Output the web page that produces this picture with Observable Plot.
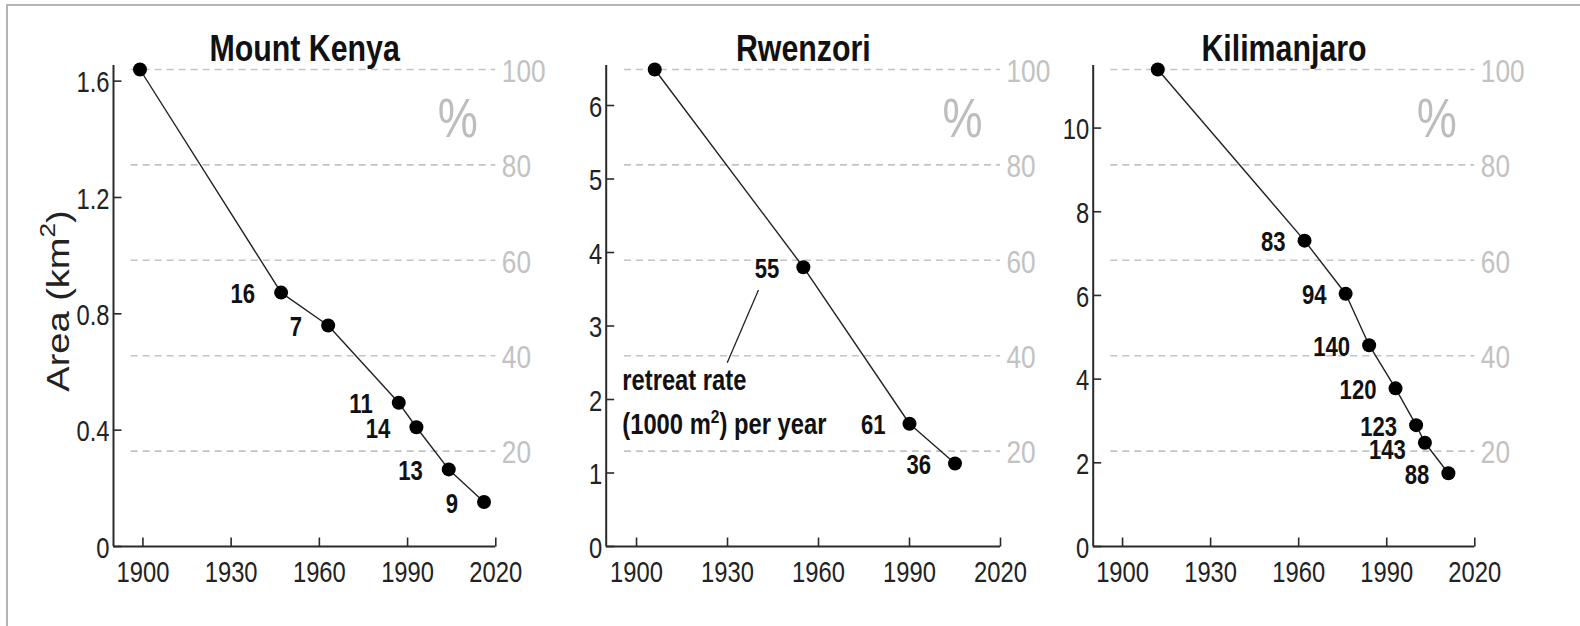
<!DOCTYPE html>
<html>
<head>
<meta charset="utf-8">
<script src="https://cdn.jsdelivr.net/npm/d3@7"></script>
<script src="https://cdn.jsdelivr.net/npm/@observablehq/plot@0.6"></script>
<style>
  html, body { margin: 0; padding: 0; background: #fff; }
  #wrap { position: relative; width: 1580px; height: 626px; overflow: hidden; background: #fff; }
  #frame { position: absolute; left: 6px; top: 4px; width: 1600px; height: 700px;
           border-top: 2px solid #b4b4b4; border-left: 2px solid #b4b4b4; }
  .panel { position: absolute; top: 0; }
  #ylab { position: absolute; left: 58px; top: 301px; transform: translate(-50%, -50%) rotate(-90deg) scale(1, 0.82);
          white-space: nowrap; font-family: 'Liberation Sans', Arial, sans-serif; font-size: 38px; color: #222; line-height: 1; }
  #ylab sup { font-size: 26px; line-height: 0; position: relative; top: -3px; vertical-align: super; }
</style>
</head>
<body>
<div id="wrap"><div id="frame"></div><div id="ylab">Area (km<sup>2</sup>)</div></div>
<script>
// ---- data ----
const titles = ["Mount Kenya", "Rwenzori", "Kilimanjaro"];
const xTicks = [1900, 1930, 1960, 1990, 2020];
const xDomain = [1890, 2020];
const pctTicks = [20, 40, 60, 80, 100];

const mkYears = [1899, 1947, 1963, 1987, 1993, 2004, 2016];
const mkArea  = [1.64, 0.873, 0.76, 0.494, 0.41, 0.265, 0.153];
const mkRate  = [null, 16, 7, 11, 14, 13, 9];
const mkYTicks = [0, 0.4, 0.8, 1.2, 1.6];

const rwYears = [1906, 1955, 1990, 2005];
const rwArea  = [6.49, 3.80, 1.67, 1.13];
const rwRate  = [null, 55, 61, 36];
const rwYTicks = [0, 1, 2, 3, 4, 5, 6];

const kiYears = [1912, 1962, 1976, 1984, 1993, 2000, 2003, 2011];
const kiArea  = [11.40, 7.31, 6.04, 4.81, 3.78, 2.90, 2.48, 1.75];
const kiRate  = [null, 83, 94, 140, 120, 123, 143, 88];
const kiYTicks = [0, 2, 4, 6, 8, 10];

const annoLines = ["retreat rate", "(1000 m²) per year"];
const annoYear = 1895.3;
const annoValues = [2.25, 1.66];
const leader = {x1: 1940.2, y1: 3.49, x2: 1929.9, y2: 2.50};

// ---- layout / style ----
const FONT = "'Liberation Sans', Arial, sans-serif";
const SQUEEZE = 0.82;           // the reference uses a narrow face
const AX = "#2a2a2a";
const labelNudgeY = {"Kilimanjaro|2003": 6};  // keeps the crowded 143 label clear of 123
const tickUp = {draw(ctx) { ctx.moveTo(0, 0); ctx.lineTo(0, -9); }};
const tickRight = {draw(ctx) { ctx.moveTo(0, 0); ctx.lineTo(8, 0); }};

function panel(cfg) {
  const rows = cfg.years.map((year, i) => ({year, area: cfg.area[i], rate: cfg.rate[i]}));
  const top = cfg.area[0];
  const labeled = rows.filter(d => d.rate != null);
  const marks = [
    Plot.ruleY(pctTicks, {y: p => p / 100 * top, x1: 1896, x2: xDomain[1], stroke: "#c4c4c4", strokeWidth: 1.6, strokeDasharray: "7,5"}),
    Plot.text(pctTicks, {y: p => p / 100 * top, text: d => String(d), frameAnchor: "right", dx: 6, dy: 2, textAnchor: "start", lineAnchor: "middle", fill: "#c2c2c2", fontSize: 32}),
    Plot.text(["%"], {frameAnchor: "top-right", dx: -38, dy: 50, textAnchor: "middle", lineAnchor: "middle", fill: "#bdbdbd", fontSize: 55}),
    Plot.ruleY([0], {stroke: AX, strokeWidth: 2}),
    Plot.ruleX([xDomain[0]], {stroke: AX, strokeWidth: 2, insetTop: -4}),
    Plot.dot(xTicks, {x: d => d, y: 0, symbol: tickUp, stroke: AX, fill: "none", strokeWidth: 1.6}),
    Plot.dot(cfg.yTicks, {x: xDomain[0], y: d => d, symbol: tickRight, stroke: AX, fill: "none", strokeWidth: 1.6}),
    Plot.text(xTicks, {x: d => d, text: d => String(d), frameAnchor: "bottom", dy: 26, lineAnchor: "middle", fontSize: 29, fill: "#222"}),
    Plot.text(cfg.yTicks, {y: d => d, text: d => String(d), frameAnchor: "left", dx: -4, dy: 2, textAnchor: "end", lineAnchor: "middle", fontSize: 29, fill: "#222"}),
    Plot.line(rows, {x: "year", y: "area", stroke: "#222", strokeWidth: 1.4}),
    Plot.dot(rows, {x: "year", y: "area", r: 7, fill: "#000"}),
    Plot.text(labeled, {x: "year", y: "area", text: d => String(d.rate), dx: cfg.labelDx, dy: 2, textAnchor: "end", lineAnchor: "middle", fontWeight: "bold", fontSize: 27, fill: "#111"}),
    Plot.text([cfg.title], {frameAnchor: "top", dy: -9, lineAnchor: "bottom", fontWeight: "bold", fontSize: 37, fill: "#111"}),
    ...(cfg.extra || [])
  ];
  const svg = Plot.plot({
    width: cfg.width, height: 626,
    marginLeft: cfg.ml, marginRight: cfg.mr, marginTop: 69, marginBottom: 80,
    x: {domain: xDomain, axis: null},
    y: {domain: [0, top], axis: null},
    style: {background: "transparent", overflow: "visible", fontFamily: FONT},
    marks
  });
  // nudge individual crowded rate labels
  for (const r of labeled) {
    const dy = labelNudgeY[cfg.title + "|" + r.year];
    if (!dy) continue;
    svg.querySelectorAll("text").forEach(t => {
      if (t.textContent === String(r.rate)) {
        t.setAttribute("transform", `translate(0,${dy}) ` + (t.getAttribute("transform") || ""));
      }
    });
  }
  // real superscript for the "m²" of the annotation
  svg.querySelectorAll("text").forEach(t => {
    const s = t.textContent;
    if (s.includes("²")) {
      const [a, b] = s.split("²");
      t.textContent = "";
      const ns = "http://www.w3.org/2000/svg";
      const t1 = document.createElementNS(ns, "tspan"); t1.textContent = a;
      const t2 = document.createElementNS(ns, "tspan"); t2.textContent = "2";
      t2.setAttribute("font-size", "19"); t2.setAttribute("dy", "-11");
      const t3 = document.createElementNS(ns, "tspan"); t3.textContent = b; t3.setAttribute("dy", "11");
      t.append(t1, t2, t3);
    }
  });
  // horizontal squeeze of every text to mimic the narrow typeface
  svg.querySelectorAll("text").forEach(t => {
    let tr = t.getAttribute("transform");
    if (!tr) {
      const x = +t.getAttribute("x") || 0, y = +t.getAttribute("y") || 0;
      t.removeAttribute("x"); t.removeAttribute("y");
      tr = `translate(${x},${y})`;
    }
    t.setAttribute("transform", tr + ` scale(${SQUEEZE},1)`);
  });
  return svg;
}

const annoMarks = [
  Plot.text(annoLines, {x: annoYear, y: (d, i) => annoValues[i], text: d => d, textAnchor: "start", lineAnchor: "middle", fontWeight: "bold", fontSize: 29, fill: "#111"}),
  Plot.link([leader], {x1: "x1", y1: "y1", x2: "x2", y2: "y2", stroke: "#222", strokeWidth: 1.3})
];

const cfgs = [
  {title: titles[0], years: mkYears, area: mkArea, rate: mkRate, yTicks: mkYTicks, left: 0, width: 540, ml: 113, mr: 44.7, labelDx: -26},
  {title: titles[1], years: rwYears, area: rwArea, rate: rwRate, yTicks: rwYTicks, left: 540, width: 520, ml: 65.7, mr: 60, labelDx: -24, extra: annoMarks},
  {title: titles[2], years: kiYears, area: kiArea, rate: kiRate, yTicks: kiYTicks, left: 1060, width: 520, ml: 32.7, mr: 105.7, labelDx: -19}
];

const wrap = document.getElementById("wrap");
for (const cfg of cfgs) {
  const div = document.createElement("div");
  div.className = "panel";
  div.style.left = cfg.left + "px";
  div.style.width = cfg.width + "px";
  div.appendChild(panel(cfg));
  wrap.appendChild(div);
}
</script>
</body>
</html>
